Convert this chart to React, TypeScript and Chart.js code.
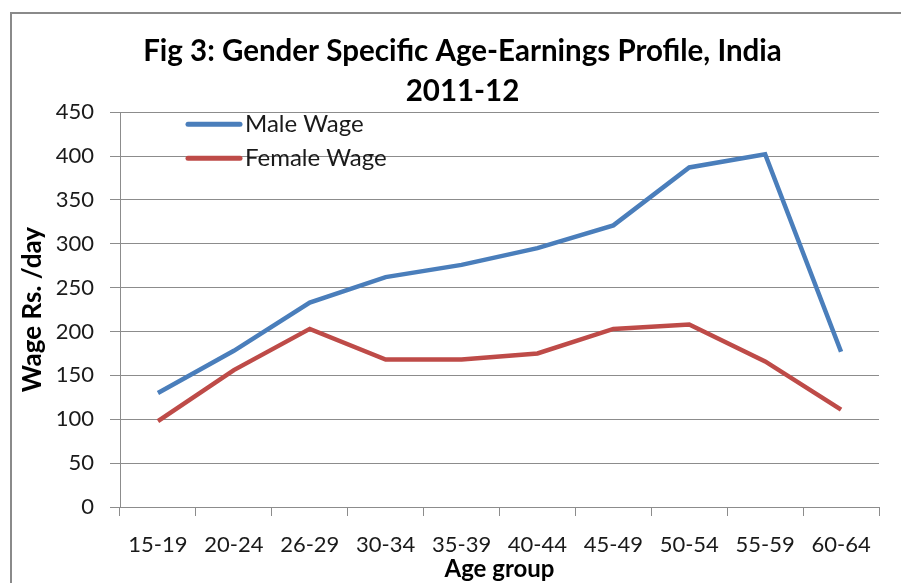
import React, { useEffect, useRef } from "react";
import { Chart, registerables } from "chart.js";

Chart.register(...registerables);

const categories = ["15-19", "20-24", "26-29", "30-34", "35-39", "40-44", "45-49", "50-54", "55-59", "60-64"];
const maleWage = [130, 178, 233, 262, 276, 295, 321, 387, 402, 177];
const femaleWage = [98, 156, 203, 168, 168, 175, 203, 208, 166, 111];
const titleLines = ["Fig 3: Gender Specific Age-Earnings Profile, India", "2011-12"];
const yTitle = "Wage Rs. /day";
const xTitle = "Age group";

const FONT = "Lato, 'Open Sans', sans-serif";
const GRID = "#8c8c8c";

const framePlugin = {
  id: "frame",
  beforeDraw(chart: any) {
    const ctx = chart.ctx;
    ctx.save();
    ctx.fillStyle = "#ffffff";
    ctx.fillRect(0, 0, chart.width, chart.height);
    ctx.strokeStyle = "#8a8a8a";
    ctx.lineWidth = 2;
    ctx.strokeRect(11, 13, chart.width + 50, chart.height + 50);
    ctx.restore();
  },
};

const legendPlugin = {
  id: "insideLegend",
  afterDraw(chart: any) {
    const ctx = chart.ctx;
    const area = chart.chartArea;
    ctx.save();
    chart.data.datasets.forEach((ds: any, i: number) => {
      const y = area.top + 12 + i * 34;
      const x0 = area.left + 68;
      ctx.strokeStyle = ds.borderColor;
      ctx.lineWidth = 5;
      ctx.lineCap = "round";
      ctx.beginPath();
      ctx.moveTo(x0, y);
      ctx.lineTo(x0 + 52, y);
      ctx.stroke();
      ctx.fillStyle = "#1a1a1a";
      ctx.font = `24px ${FONT}`;
      ctx.textBaseline = "middle";
      ctx.textAlign = "left";
      ctx.fillText(ds.label, x0 + 57, y);
    });
    ctx.restore();
  },
};

export default function App() {
  const ref = useRef<HTMLCanvasElement>(null);
  useEffect(() => {
    if (!ref.current) return;
    const chart = new Chart(ref.current, {
      type: "line",
      data: {
        labels: categories,
        datasets: [
          {
            label: "Male Wage",
            data: maleWage,
            borderColor: "#4a7ebb",
            backgroundColor: "#4a7ebb",
            borderWidth: 4.5,
            pointRadius: 0,
            tension: 0,
            yAxisID: "y",
          },
          {
            label: "Female Wage",
            data: femaleWage,
            borderColor: "#be4b48",
            backgroundColor: "#be4b48",
            borderWidth: 4.5,
            pointRadius: 0,
            tension: 0,
            yAxisID: "y",
          },
        ],
      },
      options: {
        responsive: false,
        animation: false,
        layout: { padding: { left: 24, right: 0, top: 0, bottom: 0 } },
        plugins: {
          legend: { display: false },
          tooltip: { enabled: false },
          title: {
            display: true,
            text: titleLines,
            color: "#000000",
            font: { family: FONT, size: 29.5, weight: "bold", lineHeight: 1.376 },
            padding: { top: 31, bottom: 0 },
          },
        },
        scales: {
          x: {
            type: "category",
            offset: true,
            afterFit: (s: any) => { s.height = 76; },
            grid: { display: true, drawOnChartArea: false, offset: true, tickLength: 9, color: GRID, lineWidth: 1 },
            border: { display: true, color: GRID, width: 1 },
            ticks: { color: "#1a1a1a", font: { family: FONT, size: 22 }, padding: 16, maxRotation: 0, autoSkip: false },
            title: { display: true, text: xTitle, color: "#000000", font: { family: FONT, size: 24, weight: "bold" }, padding: { top: 0, bottom: -1 } },
          },
          y: {
            position: "left",
            min: 0,
            max: 450,
            afterFit: (s: any) => { s.width = 96; },
            grid: { display: true, drawOnChartArea: true, tickLength: 10, color: GRID, lineWidth: 1 },
            border: { display: true, color: GRID, width: 1 },
            ticks: { stepSize: 50, color: "#1a1a1a", font: { family: FONT, size: 22 }, padding: 16 },
            title: { display: true, text: yTitle, color: "#000000", font: { family: FONT, size: 26, weight: "bold" }, padding: { top: -7, bottom: 0 } },
          },
          yRight: {
            position: "right",
            display: true,
            afterFit: (s: any) => { s.width = 22; },
            grid: { display: false, drawTicks: false },
            border: { display: false },
            ticks: { display: false },
          },
        },
      },
      plugins: [framePlugin, legendPlugin],
    });
    return () => chart.destroy();
  }, []);
  return (
    <div style={{ position: "fixed", left: 0, top: 0, width: 901, height: 583 }}>
      <canvas ref={ref} width={901} height={583} style={{ width: 901, height: 583 }} />
    </div>
  );
}
